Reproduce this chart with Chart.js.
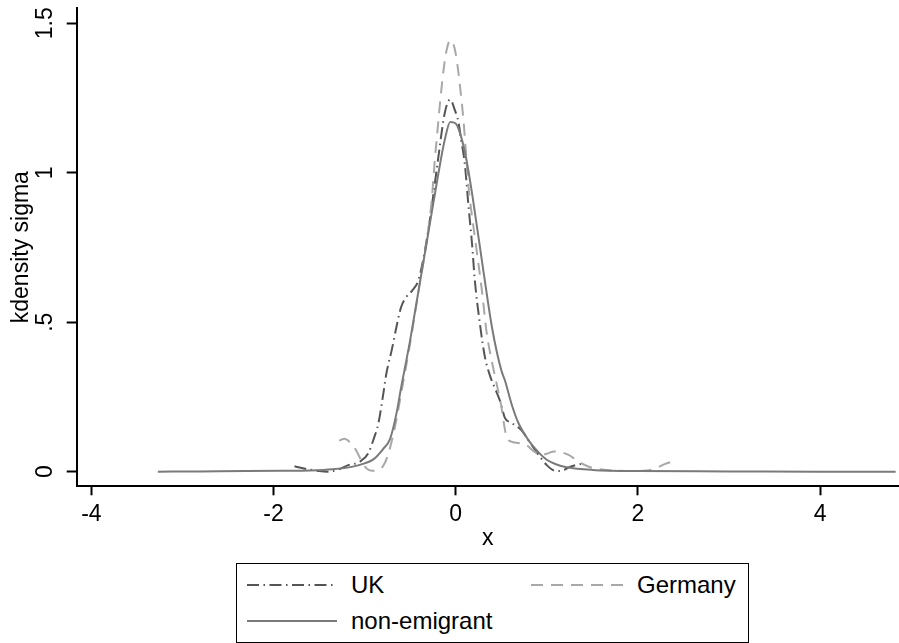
<!DOCTYPE html>
<html>
<head>
<meta charset="utf-8">
<script src="https://cdn.jsdelivr.net/npm/chart.js@4.4.1/dist/chart.umd.min.js"></script>
<style>
  html, body { margin: 0; padding: 0; background: #fff; }
  #wrap { position: relative; width: 899px; height: 643px; }
  #legend {
    position: absolute; left: 236px; top: 563px; width: 511px; height: 78px;
    border: 1.5px solid #000; background: #fff;
    font-family: "Liberation Sans", Arial, sans-serif; font-size: 24px; color: #000;
  }
  .item { position: absolute; height: 28px; display: flex; align-items: center; }
  .item svg { margin-right: 14px; }
</style>
</head>
<body>
<div id="wrap">
  <canvas id="chart"></canvas>
  <div id="legend"></div>
</div>
<script>
// kdensity curves
var ukX = [-1.77, -1.64, -1.5, -1.4, -1.3, -1.18, -1.05, -0.96, -0.9, -0.85, -0.8, -0.76, -0.7, -0.65, -0.6, -0.54, -0.48, -0.41, -0.35, -0.28, -0.2, -0.12, -0.06, -0.01, 0.03, 0.06, 0.1, 0.14, 0.18, 0.21, 0.27, 0.32, 0.38, 0.43, 0.49, 0.54, 0.6, 0.68, 0.73, 0.82, 0.91, 1.0, 1.08, 1.15, 1.26, 1.4];
var ukY = [0.018, 0.009, 0.002, 0.0, 0.006, 0.022, 0.034, 0.062, 0.11, 0.16, 0.25, 0.33, 0.41, 0.485, 0.55, 0.585, 0.605, 0.64, 0.72, 0.85, 1.03, 1.2, 1.245, 1.21, 1.17, 1.11, 1.03, 0.89, 0.76, 0.64, 0.485, 0.385, 0.318, 0.28, 0.234, 0.18, 0.165, 0.15, 0.136, 0.095, 0.056, 0.022, 0.004, 0.002, 0.017, 0.028];

var deX = [-1.28, -1.22, -1.16, -1.1, -1.04, -0.98, -0.92, -0.86, -0.8, -0.75, -0.7, -0.65, -0.6, -0.5, -0.4, -0.3, -0.26, -0.23, -0.2, -0.17, -0.135, -0.1, -0.06, -0.025, 0.01, 0.047, 0.084, 0.113, 0.14, 0.16, 0.23, 0.29, 0.34, 0.41, 0.47, 0.5, 0.53, 0.56, 0.62, 0.7, 0.78, 0.86, 0.93, 1.0, 1.08, 1.16, 1.24, 1.32, 1.4, 1.5, 1.65, 1.8, 1.95, 2.1, 2.2, 2.3, 2.37];
var deY = [0.104, 0.11, 0.098, 0.075, 0.04, 0.011, 0.003, 0.005, 0.018, 0.05, 0.105, 0.175, 0.26, 0.43, 0.62, 0.81, 0.92, 1.04, 1.14, 1.24, 1.34, 1.41, 1.443, 1.43, 1.38, 1.29, 1.18, 1.065, 0.955, 0.9, 0.74, 0.6, 0.465, 0.35, 0.265, 0.22, 0.16, 0.115, 0.1, 0.095, 0.088, 0.068, 0.056, 0.06, 0.068, 0.065, 0.056, 0.04, 0.025, 0.013, 0.006, 0.003, 0.002, 0.004, 0.012, 0.026, 0.033];

var neX = [-3.27, -2.8, -2.3, -1.9, -1.6, -1.35, -1.13, -1.0, -0.9, -0.8, -0.72, -0.65, -0.6, -0.5, -0.4, -0.3, -0.2, -0.12, -0.06, 0.0, 0.06, 0.12, 0.19, 0.3, 0.4, 0.5, 0.54, 0.62, 0.69, 0.8, 0.9, 1.0, 1.1, 1.22, 1.5, 2.0, 3.0, 4.0, 4.83];
var neY = [0.0, 0.001, 0.002, 0.003, 0.004, 0.008, 0.017, 0.028, 0.042, 0.075, 0.11, 0.195, 0.28, 0.44, 0.62, 0.8, 0.98, 1.11, 1.17, 1.165, 1.12, 1.04, 0.91, 0.68, 0.48, 0.34, 0.306, 0.22, 0.162, 0.105, 0.068, 0.04, 0.025, 0.015, 0.006, 0.002, 0.001, 0.0, 0.0];

var seriesNames = ['UK', 'Germany', 'non-emigrant'];
var xTickValues = [-4, -2, 0, 2, 4];
var xTickLabels = ['-4', '-2', '0', '2', '4'];
var yTickValues = [0, 0.5, 1, 1.5];
var yTickLabels = ['0', '.5', '1', '1.5'];

var colors = ['#555555', '#a8a8a8', '#7a7a7a'];
var dashes = [[12, 4.5, 1.5, 4.5], [12, 8], []];
var FONT = '"Liberation Sans", Arial, sans-serif';

function toPoints(xs, ys) {
    return xs.map(function (x, i) { return { x: x, y: ys[i] }; });
}

var allX = [ukX, deX, neX];
var allY = [ukY, deY, neY];
var datasets = seriesNames.map(function (name, i) {
    return {
        label: name,
        data: toPoints(allX[i], allY[i]),
        borderColor: colors[i],
        borderWidth: 2,
        borderDash: dashes[i],
        pointRadius: 0,
        showLine: true,
        fill: false,
        cubicInterpolationMode: 'monotone',
        order: 2 - i // stata draws later series on top
    };
});

var ctx = document.getElementById('chart');
var chart = new Chart(ctx, {
    type: 'scatter',
    data: { datasets: datasets },
    options: {
        responsive: true,
        maintainAspectRatio: false,
        animation: false,
        layout: { padding: { left: 0, right: 0, top: 8, bottom: 83 } },
        plugins: {
            legend: { display: false },
            tooltip: { enabled: false }
        },
        scales: {
            x: {
                type: 'linear',
                min: -4.161,
                max: 4.867,
                afterFit: function (s) {
                    s.height = 73.7;
                    s.paddingLeft = 0; s.paddingRight = 0;
                },
                afterBuildTicks: function (s) {
                    s.ticks = xTickValues.map(function (v) { return { value: v }; });
                },
                ticks: {
                    padding: 6,
                    color: '#000',
                    font: { family: FONT, size: 23 },
                    callback: function (v) {
                        var i = xTickValues.indexOf(v);
                        return i >= 0 ? xTickLabels[i] : '';
                    }
                },
                grid: {
                    drawOnChartArea: false,
                    drawTicks: true,
                    tickLength: 9,
                    tickWidth: 2,
                    tickColor: '#000'
                },
                border: { display: true, color: '#000', width: 2 },
                title: {
                    display: true,
                    text: 'x',
                    color: '#000',
                    font: { family: FONT, size: 23 },
                    padding: { top: 0, bottom: 8 }
                }
            },
            y: {
                type: 'linear',
                min: -0.0488,
                max: 1.551,
                afterFit: function (s) {
                    s.width = 76.7;
                    s.paddingTop = 0; s.paddingBottom = 0;
                },
                afterBuildTicks: function (s) {
                    s.ticks = yTickValues.map(function (v) { return { value: v }; });
                },
                ticks: {
                    padding: 5,
                    minRotation: 90,
                    maxRotation: 90,
                    crossAlign: 'center',
                    color: '#000',
                    font: { family: FONT, size: 23 },
                    callback: function (v) {
                        var i = yTickValues.indexOf(v);
                        return i >= 0 ? yTickLabels[i] : '';
                    }
                },
                grid: {
                    drawOnChartArea: false,
                    drawTicks: true,
                    tickLength: 10,
                    tickWidth: 2,
                    tickColor: '#000'
                },
                border: { display: true, color: '#000', width: 2 },
                title: {
                    display: true,
                    text: 'kdensity sigma',
                    color: '#000',
                    font: { family: FONT, size: 23 },
                    padding: { top: 8, bottom: 0 }
                }
            }
        }
    }
});

// legend built as html, two columns like the stata one
var legendPos = [[10, 7], [294, 7], [10, 43]];
var legendEl = document.getElementById('legend');
seriesNames.forEach(function (name, i) {
    var w = i == 1 ? 92 : 90;
    var div = document.createElement('div');
    div.className = 'item';
    div.style.left = legendPos[i][0] + 'px';
    div.style.top = legendPos[i][1] + 'px';
    div.innerHTML = '<svg width="' + w + '" height="4"><line x1="0" y1="2" x2="' + w + '" y2="2" stroke="' + colors[i] +
        '" stroke-width="2" stroke-dasharray="' + (dashes[i].length ? dashes[i].join(' ') : 'none') + '"/></svg><span>' + name + '</span>';
    legendEl.appendChild(div);
});
</script>
</body>
</html>
